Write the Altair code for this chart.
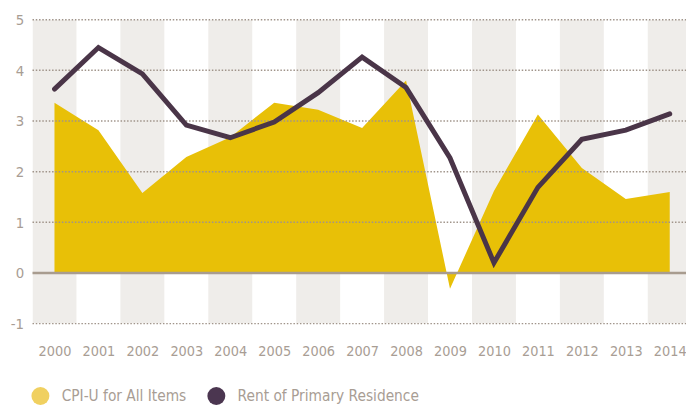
import altair as alt
import pandas as pd

years = list(range(2000, 2015))
cpi_all = [3.36, 2.82, 1.58, 2.29, 2.68, 3.36, 3.22, 2.86, 3.80, -0.31, 1.62, 3.13, 2.07, 1.46, 1.60]
rent = [3.63, 4.45, 3.93, 2.92, 2.67, 2.98, 3.56, 4.26, 3.66, 2.27, 0.20, 1.69, 2.64, 2.82, 3.14]
series_names = ["CPI-U for All Items", "Rent of Primary Residence"]
grid_values = [-1, 1, 2, 3, 4, 5]
stripe_years = [y for y in years if y % 2 == 0]

FONT = "'DejaVu Sans Condensed', 'Liberation Sans Narrow', 'Roboto Condensed', 'Noto Sans', sans-serif"
LABEL = "#A89D94"
YELLOW = "#E8C007"
DARK = "#4A3548"

df = pd.DataFrame({"year": years, "cpi": cpi_all, "rent": rent})
stripes_df = pd.DataFrame({"year": stripe_years})
grid_df = pd.DataFrame({"v": grid_values})
legend_df = pd.DataFrame({"series": series_names, "year": [2000, 2000], "v": [0, 0]})

xscale = alt.Scale(domain=[1999.5, 2014.37], nice=False, zero=False)
yscale = alt.Scale(domain=[-1, 5], nice=False)

xaxis = alt.Axis(values=years, format="d", grid=False, domain=False, ticks=False,
                 labelFont=FONT, labelFontSize=14.5, labelColor=LABEL, labelPadding=21,
                 title=None)
yaxis = alt.Axis(values=[-1, 0, 1, 2, 3, 4, 5], labelExpr="toString(datum.value)",
                 grid=False, domain=False, ticks=False,
                 labelFont=FONT, labelFontSize=15, labelColor=LABEL, labelPadding=9,
                 title=None)

stripes = alt.Chart(stripes_df).transform_calculate(
    x0="datum.year - 0.5", x1="datum.year + 0.5"
).mark_rect(color="#EFEDEA", clip=True).encode(
    x=alt.X("x0:Q", scale=xscale, axis=xaxis),
    x2="x1:Q",
    y=alt.value(0),
    y2=alt.value(307.5),
)

area = alt.Chart(df).mark_area(color=YELLOW, opacity=1).encode(
    x=alt.X("year:Q", scale=xscale),
    y=alt.Y("cpi:Q", scale=yscale, axis=yaxis),
    y2=alt.datum(0),
)

grid = alt.Chart(grid_df).mark_rule(color="#A0948A", strokeWidth=1.5, strokeDash=[1.5, 1.8]).encode(
    y=alt.Y("v:Q", scale=yscale),
    x=alt.value(0),
    x2=alt.value(661.2),
)

zero = alt.Chart(pd.DataFrame({"v": [0]})).mark_rule(color="#A89C8F", strokeWidth=2.5).encode(
    y=alt.Y("v:Q", scale=yscale),
    x=alt.value(0),
    x2=alt.value(661.2),
)

line = alt.Chart(df).mark_line(color=DARK, strokeWidth=5, strokeCap="round").encode(
    x=alt.X("year:Q", scale=xscale),
    y=alt.Y("rent:Q", scale=yscale),
)

legend_layer = alt.Chart(legend_df).mark_circle(size=0, opacity=1).encode(
    x=alt.X("year:Q", scale=xscale),
    y=alt.Y("v:Q", scale=yscale),
    color=alt.Color("series:N",
                    scale=alt.Scale(domain=series_names, range=["#F0D060", "#4B3650"]),
                    legend=alt.Legend(orient="none", legendX=-1.5, legendY=371, direction="horizontal",
                                      title=None, symbolType="circle", symbolSize=330,
                                      symbolStrokeWidth=0, labelFont=FONT, labelFontSize=15.5,
                                      labelColor=LABEL, labelOffset=12, columnPadding=20,
                                      labelLimit=0, symbolOpacity=1)),
)

chart = alt.layer(stripes, area, grid, zero, line, legend_layer).properties(
    width=661.2, height=307.5,
    padding={"left": 24.8, "top": 9.5, "right": 0, "bottom": 80},
    autosize="none",
).configure_view(stroke=None)

chart.save("out.html", embed_options={"renderer": "svg", "actions": False})
